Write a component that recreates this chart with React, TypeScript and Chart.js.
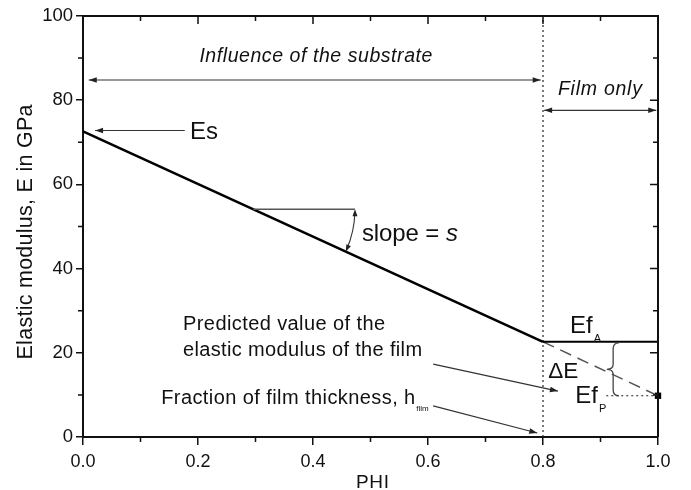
import React, { useEffect, useRef } from "react";
import { Chart, registerables } from "chart.js";

Chart.register(...registerables);

// ---------- data ----------
const xMinorTicks = [0.1, 0.3, 0.5, 0.7, 0.9];
const yMinorTicks = [10, 30, 50, 70, 90];
const xMajorTicks = [0, 0.2, 0.4, 0.6, 0.8, 1.0];
const yMajorTicks = [0, 20, 40, 60, 80, 100];

const substratePhi = [0, 0.8];
const substrateE = [72.6, 22.6];
const filmAPhi = [0.8, 1.0];
const filmAE = [22.6, 22.6];
const predictedPhi = [0.8, 1.0];
const predictedE = [22.6, 9.8];
const filmPPhi = [0.91, 1.0];
const filmPE = [9.8, 9.8];
const boundaryPhi = [0.8, 0.8];
const boundaryE = [0, 100];
const markerPhi = [1.0];
const markerE = [9.8];

// annotation arrows in data coordinates
const arrowLines = [
  { from: [0.01, 84.8], to: [0.796, 84.8], start: true, end: true },
  { from: [0.802, 77.6], to: [0.997, 77.6], start: true, end: true },
  { from: [0.177, 72.8], to: [0.021, 72.8], start: false, end: true },
  { from: [0.609, 17.3], to: [0.826, 10.9], start: false, end: true },
  { from: [0.609, 7.4], to: [0.79, 0.95], start: false, end: true },
];
const slopeStartPhi = 0.296;
const slopeEndPhi = 0.473;
const braceX = [0.911, 0.922, 0.932];

type Seg = { t: string; italic?: boolean; sub?: boolean; size?: number; dy?: number };
type TextSpec = { segs: Seg[]; x: number; y: number; size: number; width?: number; align?: "left" | "center" };

const textSpecs: TextSpec[] = [
  { segs: [{ t: "Influence of the substrate", italic: true }], x: 0.405, y: 90.7, size: 19.5, width: 233, align: "center" },
  { segs: [{ t: "Film only", italic: true }], x: 0.899, y: 82.9, size: 19.5, width: 84, align: "center" },
  { segs: [{ t: "Es" }], x: 0.186, y: 72.9, size: 24, width: 28 },
  { segs: [{ t: "slope = " }, { t: "s", italic: true }], x: 0.485, y: 48.6, size: 24, width: 96 },
  { segs: [{ t: "Predicted value of the" }], x: 0.174, y: 27.0, size: 20, width: 202 },
  { segs: [{ t: "elastic modulus of the film" }], x: 0.174, y: 21.0, size: 20, width: 239 },
  { segs: [{ t: "Fraction of film thickness, h" }, { t: "film", sub: true, size: 8, dy: 7 }], x: 0.136, y: 9.6, size: 20, width: 254 },
  { segs: [{ t: "Ef" }, { t: "A", sub: true, size: 11, dy: 9 }], x: 0.847, y: 26.7, size: 24 },
  { segs: [{ t: "\u0394E" }], x: 0.809, y: 15.9, size: 22.5, width: 30 },
  { segs: [{ t: "Ef" }, { t: "P", sub: true, size: 11, dy: 9 }], x: 0.856, y: 10.0, size: 24 },
];

const FONT = '"Liberation Sans", Arial, Helvetica, sans-serif';
const TEXT_COLOR = "#111";

function fontOf(size: number, italic?: boolean) {
  return `${italic ? "italic " : ""}${size}px ${FONT}`;
}

function drawRich(ctx: CanvasRenderingContext2D, spec: TextSpec, px: number, py: number) {
  const main = spec.segs.filter((s) => !s.sub);
  let count = 0;
  let charNat = 0;
  for (const s of main) {
    ctx.font = fontOf(spec.size, s.italic);
    for (const ch of s.t) {
      charNat += ctx.measureText(ch).width;
      count++;
    }
  }
  const ls = spec.width ? (spec.width - charNat) / Math.max(1, count - 1) : 0;
  const total = charNat + ls * (count - 1);
  let x = spec.align === "center" ? px - total / 2 : px;
  const base = py + 0.358 * spec.size;
  ctx.textBaseline = "alphabetic";
  ctx.textAlign = "left";
  for (const s of spec.segs) {
    if (s.sub) {
      const sz = s.size || spec.size * 0.5;
      ctx.font = fontOf(sz, s.italic);
      ctx.fillText(s.t, x + 1 - ls, base + (s.dy || 6));
      x += ctx.measureText(s.t).width;
      continue;
    }
    ctx.font = fontOf(spec.size, s.italic);
    for (const ch of s.t) {
      ctx.fillText(ch, x, base);
      x += ctx.measureText(ch).width + ls;
    }
  }
}

function arrowHead(ctx: CanvasRenderingContext2D, x0: number, y0: number, x1: number, y1: number, len = 8, half = 2.8) {
  const a = Math.atan2(y1 - y0, x1 - x0);
  const c = Math.cos(a), s = Math.sin(a);
  ctx.beginPath();
  ctx.moveTo(x1, y1);
  ctx.lineTo(x1 - len * c + half * s, y1 - len * s - half * c);
  ctx.lineTo(x1 - len * c - half * s, y1 - len * s + half * c);
  ctx.closePath();
  ctx.fill();
}

function interp(xs: number[], ys: number[], x: number) {
  const t = (x - xs[0]) / (xs[1] - xs[0]);
  return ys[0] + t * (ys[1] - ys[0]);
}

const annotationPlugin = {
  id: "annotations",
  afterDraw(chart: any) {
    const ctx: CanvasRenderingContext2D = chart.ctx;
    const xs = chart.scales.x;
    const ys = chart.scales.y;
    const px = (v: number) => xs.getPixelForValue(v);
    const py = (v: number) => ys.getPixelForValue(v);
    const { left, right, top, bottom } = chart.chartArea;

    ctx.save();
    // frame: top and right
    ctx.strokeStyle = "#111";
    ctx.lineWidth = 2;
    ctx.beginPath();
    ctx.moveTo(left, top);
    ctx.lineTo(right, top);
    ctx.lineTo(right, bottom);
    ctx.stroke();

    // mirrored ticks and minor ticks
    ctx.lineWidth = 1.5;
    ctx.beginPath();
    for (const v of xMajorTicks) {
      ctx.moveTo(px(v), top);
      ctx.lineTo(px(v), top + 8);
    }
    for (const v of xMinorTicks) {
      ctx.moveTo(px(v), top);
      ctx.lineTo(px(v), top + 5);
      ctx.moveTo(px(v), bottom);
      ctx.lineTo(px(v), bottom + 5);
    }
    for (const v of yMajorTicks) {
      ctx.moveTo(right, py(v));
      ctx.lineTo(right - 8, py(v));
    }
    for (const v of yMinorTicks) {
      ctx.moveTo(right, py(v));
      ctx.lineTo(right - 5, py(v));
      ctx.moveTo(left, py(v));
      ctx.lineTo(left - 5, py(v));
    }
    ctx.stroke();

    // arrows
    ctx.strokeStyle = "#333";
    ctx.fillStyle = "#222";
    ctx.lineWidth = 1.2;
    for (const a of arrowLines) {
      const x0 = px(a.from[0]), y0 = py(a.from[1]);
      const x1 = px(a.to[0]), y1 = py(a.to[1]);
      ctx.beginPath();
      ctx.moveTo(x0, y0);
      ctx.lineTo(x1, y1);
      ctx.stroke();
      if (a.end) arrowHead(ctx, x0, y0, x1, y1);
      if (a.start) arrowHead(ctx, x1, y1, x0, y0);
    }

    // slope indicator
    const sy = interp(substratePhi, substrateE, slopeStartPhi);
    const cx = px(slopeStartPhi), cy = py(sy);
    const r = px(slopeEndPhi) - cx;
    ctx.strokeStyle = "#555";
    ctx.lineWidth = 1.5;
    ctx.beginPath();
    ctx.moveTo(cx, cy);
    ctx.lineTo(px(slopeEndPhi), cy);
    ctx.stroke();
    const ang = Math.atan2(py(substrateE[1]) - py(substrateE[0]), px(substratePhi[1]) - px(substratePhi[0]));
    ctx.strokeStyle = "#333";
    ctx.lineWidth = 1.1;
    ctx.beginPath();
    ctx.arc(cx, cy, r, 0.03, ang - 0.02);
    ctx.stroke();
    {
      const ex0 = cx + r, ey0 = cy;
      arrowHead(ctx, ex0, ey0 + 8, ex0, ey0, 7, 2.5);
      const ex1 = cx + r * Math.cos(ang), ey1 = cy + r * Math.sin(ang);
      arrowHead(ctx, ex1 + 7 * Math.sin(ang), ey1 - 7 * Math.cos(ang), ex1, ey1, 7, 2.5);
    }

    // brace
    {
      const xt = px(braceX[0]), xv = px(braceX[1]), xh = px(braceX[2]);
      const yT = py(filmAE[0]) + 1, yB = py(filmPE[0]);
      const yM = (yT + yB) / 2;
      ctx.strokeStyle = "#444";
      ctx.lineWidth = 1.3;
      ctx.beginPath();
      ctx.moveTo(xh, yT);
      ctx.quadraticCurveTo(xv, yT, xv, yT + 6);
      ctx.lineTo(xv, yM - 5);
      ctx.quadraticCurveTo(xv, yM, xt, yM);
      ctx.quadraticCurveTo(xv, yM, xv, yM + 5);
      ctx.lineTo(xv, yB - 6);
      ctx.quadraticCurveTo(xv, yB, xh, yB);
      ctx.stroke();
    }

    // texts
    ctx.fillStyle = TEXT_COLOR;
    for (const t of textSpecs) drawRich(ctx, t, px(t.x), py(t.y));

    // axis titles
    ctx.save();
    ctx.translate(24, 232);
    ctx.rotate(-Math.PI / 2);
    drawRich(ctx, { segs: [{ t: "Elastic modulus, E in GPa" }], x: 0, y: 0, size: 21.5, width: 255, align: "center" }, 0, 0);
    ctx.restore();
    drawRich(ctx, { segs: [{ t: "PHI" }], x: 0, y: 0, size: 19, width: 33, align: "center" }, (left + right) / 2 + 2, 481);

    ctx.restore();
  },
};

function pts(xs: number[], ys: number[]) {
  return xs.map((x, i) => ({ x, y: ys[i] }));
}

export default function App() {
  const ref = useRef<HTMLCanvasElement | null>(null);
  useEffect(() => {
    if (!ref.current) return;
    const base = { pointRadius: 0, fill: false, tension: 0 };
    const chart = new Chart(ref.current, {
      type: "line",
      data: {
        datasets: [
          { ...base, data: pts(substratePhi, substrateE), borderColor: "#000", borderWidth: 2.6 },
          { ...base, data: pts(filmAPhi, filmAE), borderColor: "#000", borderWidth: 2 },
          { ...base, data: pts(predictedPhi, predictedE), borderColor: "#555", borderWidth: 1.5, borderDash: [12, 7] },
          { ...base, data: pts(filmPPhi, filmPE), borderColor: "#222", borderWidth: 1.2, borderDash: [2, 3] },
          { ...base, data: pts(boundaryPhi, boundaryE), borderColor: "#222", borderWidth: 1.2, borderDash: [2, 3] },
          {
            data: pts(markerPhi, markerE),
            showLine: false,
            pointStyle: "rect",
            pointRadius: 4.5,
            backgroundColor: "#000",
            borderColor: "#000",
            borderWidth: 0,
            clip: false,
          },
        ] as any,
      },
      options: {
        responsive: false,
        animation: false,
        events: [],
        layout: { padding: { top: 16, right: 33, left: 0, bottom: 0 } },
        plugins: { legend: { display: false }, tooltip: { enabled: false } },
        scales: {
          x: {
            type: "linear",
            min: 0,
            max: 1,
            afterFit: (s: any) => {
              s.height = 53;
            },
            ticks: {
              stepSize: 0.2,
              callback: (v: any) => Number(v).toFixed(1),
              font: { family: FONT, size: 18 },
              color: TEXT_COLOR,
              padding: 6,
              maxRotation: 0,
            },
            grid: { drawOnChartArea: false, tickLength: 8, color: "#111", lineWidth: 1.5 },
            border: { color: "#111", width: 2 },
          },
          y: {
            type: "linear",
            min: 0,
            max: 100,
            afterFit: (s: any) => {
              s.width = 83;
            },
            ticks: {
              stepSize: 20,
              font: { family: FONT, size: 18.5 },
              color: TEXT_COLOR,
              padding: 3,
            },
            grid: { drawOnChartArea: false, tickLength: 7, color: "#111", lineWidth: 1.5 },
            border: { color: "#111", width: 2 },
          },
        },
      } as any,
      plugins: [annotationPlugin],
    });
    return () => chart.destroy();
  }, []);
  return (
    <div style={{ position: "absolute", left: 0, top: 0, width: 691, height: 490, background: "#fff" }}>
      <canvas ref={ref} width={691} height={490} />
    </div>
  );
}
